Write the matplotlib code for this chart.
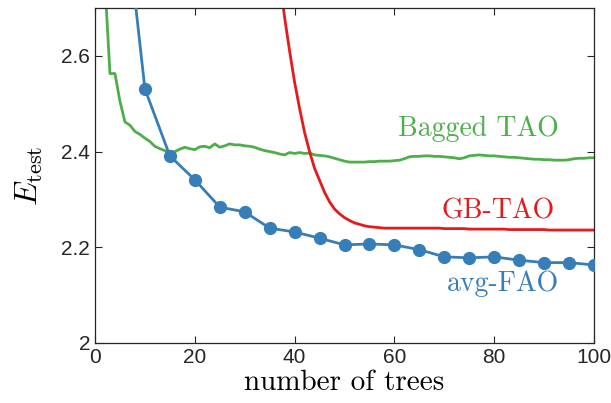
import matplotlib
matplotlib.use("Agg")
import matplotlib.pyplot as plt
import numpy as np

plt.rcParams['mathtext.fontset'] = 'cm'
plt.rcParams['font.family'] = ['Liberation Sans', 'DejaVu Sans']

# avg-FAO (markers every 5 trees)
fao_trees = [5, 10, 15, 20, 25, 30, 35, 40, 45, 50, 55, 60, 65, 70, 75, 80, 85, 90, 95, 100]
fao_err = [3.00, 2.531, 2.391, 2.341, 2.284, 2.274, 2.240, 2.232, 2.219, 2.205,
           2.207, 2.205, 2.195, 2.180, 2.178, 2.180, 2.173, 2.168, 2.168, 2.163]

# GB-TAO
gb_trees = list(range(36, 101))
gb_err = [3.00, 2.76, 2.68, 2.61, 2.545, 2.49, 2.44, 2.40, 2.365, 2.34,
          2.315, 2.295, 2.28, 2.27, 2.262, 2.256, 2.251, 2.248, 2.245, 2.243,
          2.242, 2.241, 2.240, 2.240, 2.240, 2.240, 2.240, 2.240, 2.240, 2.240,
          2.240, 2.240, 2.240, 2.240, 2.239, 2.239, 2.239, 2.239, 2.239, 2.238,
          2.238, 2.238, 2.238, 2.238, 2.238, 2.238, 2.238, 2.237, 2.237, 2.237,
          2.237, 2.237, 2.237, 2.237, 2.237, 2.236, 2.236, 2.236, 2.236, 2.236,
          2.236, 2.236, 2.236, 2.236, 2.236]

# Bagged TAO
bag_trees = list(range(1, 101))
bag_err = [3.10, 2.75, 2.563, 2.563, 2.505, 2.462, 2.455, 2.442, 2.436, 2.428,
           2.421, 2.411, 2.406, 2.402, 2.398, 2.400, 2.405, 2.409, 2.406, 2.404,
           2.410, 2.411, 2.408, 2.416, 2.409, 2.412, 2.416, 2.414, 2.414, 2.412,
           2.411, 2.409, 2.405, 2.402, 2.400, 2.398, 2.395, 2.393, 2.398, 2.396,
           2.398, 2.396, 2.397, 2.393, 2.392, 2.391, 2.389, 2.386, 2.383, 2.380,
           2.378, 2.378, 2.378, 2.378, 2.379, 2.379, 2.380, 2.380, 2.380, 2.381,
           2.382, 2.385, 2.389, 2.390, 2.390, 2.391, 2.391, 2.390, 2.390, 2.389,
           2.388, 2.387, 2.385, 2.387, 2.391, 2.392, 2.393, 2.392, 2.391, 2.391,
           2.390, 2.389, 2.388, 2.388, 2.387, 2.386, 2.385, 2.384, 2.384, 2.383,
           2.383, 2.382, 2.382, 2.382, 2.383, 2.385, 2.386, 2.386, 2.387, 2.387]

x_ticks = [0, 20, 40, 60, 80, 100]
y_ticks = [2, 2.2, 2.4, 2.6]
y_ticklabels = ['2', '2.2', '2.4', '2.6']

green = '#4daf4a'
red = '#e41a1c'
blue = '#377eb8'

fig = plt.figure(figsize=(6.11, 4.03), dpi=100)
ax = fig.add_axes([95/611, 1 - 343/403, (594-95)/611, (343-8)/403])

ax.plot(bag_trees, bag_err, color=green, lw=2.0, zorder=2)
ax.plot(gb_trees, gb_err, color=red, lw=2.0, zorder=2)
ax.plot(fao_trees, fao_err, color=blue, lw=2.0, marker='o', ms=8.5, zorder=3)

ax.set_xlim(0, 100)
ax.set_ylim(2, 2.7)
ax.set_xticks(x_ticks)
ax.set_yticks(y_ticks)
ax.set_yticklabels(y_ticklabels)
ax.tick_params(direction='in', top=True, right=True, labelsize=15,
               length=5, width=0.8, colors='#262626')
for s in ax.spines.values():
    s.set_color('#262626')
    s.set_linewidth(0.9)

ax.set_xlabel('number of trees', fontfamily='cmr10', fontsize=21, labelpad=2)
ax.set_ylabel(r'$E_{\rm test}$', fontsize=23, labelpad=12)

ax.text(76.8, 2.447, 'Bagged TAO', color=green, fontfamily='cmr10', fontsize=20,
        ha='center', va='center')
ax.text(80.8, 2.276, 'GB-TAO', color=red, fontfamily='cmr10', fontsize=20,
        ha='center', va='center')
ax.text(81.8, 2.124, 'avg-FAO', color=blue, fontfamily='cmr10', fontsize=20,
        ha='center', va='center')

fig.savefig('out.png', dpi=100)
